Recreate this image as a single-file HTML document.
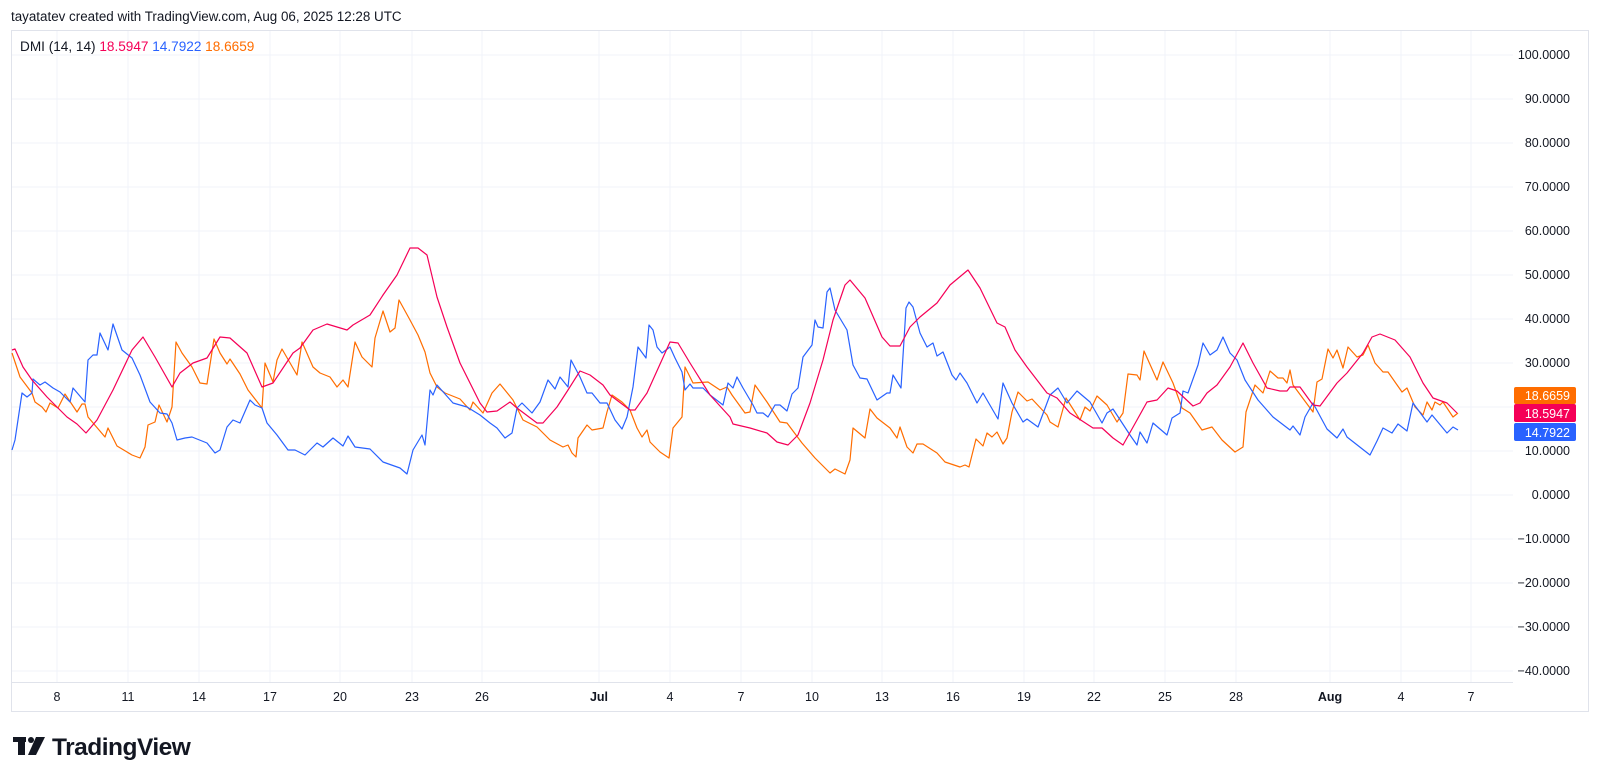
<!DOCTYPE html>
<html><head><meta charset="utf-8"><style>
body{margin:0;background:#fff;width:1600px;height:778px;overflow:hidden;font-family:"Liberation Sans",sans-serif;}
svg{position:absolute;left:0;top:0}
</style></head><body>
<svg width="1600" height="778" viewBox="0 0 1600 778" font-family="Liberation Sans, sans-serif">
<rect x="0" y="0" width="1600" height="778" fill="#fff"/>
<text x="11" y="21" font-size="13.4" fill="#131722">tayatatev created with TradingView.com, Aug 06, 2025 12:28 UTC</text>
<rect x="11.5" y="30.5" width="1577" height="681" fill="none" stroke="#e0e3eb"/>
<line x1="11" y1="682.5" x2="1513" y2="682.5" stroke="#e0e3eb"/>
<g stroke="#f0f3fa" stroke-width="1">
<line x1="12" y1="55" x2="1513" y2="55"/><line x1="12" y1="99" x2="1513" y2="99"/><line x1="12" y1="143" x2="1513" y2="143"/><line x1="12" y1="187" x2="1513" y2="187"/><line x1="12" y1="231" x2="1513" y2="231"/><line x1="12" y1="275" x2="1513" y2="275"/><line x1="12" y1="319" x2="1513" y2="319"/><line x1="12" y1="363" x2="1513" y2="363"/><line x1="12" y1="407" x2="1513" y2="407"/><line x1="12" y1="451" x2="1513" y2="451"/><line x1="12" y1="495" x2="1513" y2="495"/><line x1="12" y1="539" x2="1513" y2="539"/><line x1="12" y1="583" x2="1513" y2="583"/><line x1="12" y1="627" x2="1513" y2="627"/><line x1="12" y1="671" x2="1513" y2="671"/>
<line x1="57" y1="31" x2="57" y2="682"/><line x1="128" y1="31" x2="128" y2="682"/><line x1="199" y1="31" x2="199" y2="682"/><line x1="270" y1="31" x2="270" y2="682"/><line x1="340" y1="31" x2="340" y2="682"/><line x1="412" y1="31" x2="412" y2="682"/><line x1="482" y1="31" x2="482" y2="682"/><line x1="599" y1="31" x2="599" y2="682"/><line x1="670" y1="31" x2="670" y2="682"/><line x1="741" y1="31" x2="741" y2="682"/><line x1="812" y1="31" x2="812" y2="682"/><line x1="882" y1="31" x2="882" y2="682"/><line x1="953" y1="31" x2="953" y2="682"/><line x1="1024" y1="31" x2="1024" y2="682"/><line x1="1094" y1="31" x2="1094" y2="682"/><line x1="1165" y1="31" x2="1165" y2="682"/><line x1="1236" y1="31" x2="1236" y2="682"/><line x1="1330" y1="31" x2="1330" y2="682"/><line x1="1401" y1="31" x2="1401" y2="682"/><line x1="1471" y1="31" x2="1471" y2="682"/>
</g>
<g font-size="12.5" fill="#131722" text-anchor="end">
<text x="1570" y="59">100.0000</text><text x="1570" y="103">90.0000</text><text x="1570" y="147">80.0000</text><text x="1570" y="191">70.0000</text><text x="1570" y="235">60.0000</text><text x="1570" y="279">50.0000</text><text x="1570" y="323">40.0000</text><text x="1570" y="367">30.0000</text><text x="1570" y="455">10.0000</text><text x="1570" y="499">0.0000</text><text x="1570" y="543">−10.0000</text><text x="1570" y="587">−20.0000</text><text x="1570" y="631">−30.0000</text><text x="1570" y="675">−40.0000</text>
</g>
<g font-size="12.5" fill="#131722" text-anchor="middle">
<text x="57" y="701">8</text><text x="128" y="701">11</text><text x="199" y="701">14</text><text x="270" y="701">17</text><text x="340" y="701">20</text><text x="412" y="701">23</text><text x="482" y="701">26</text><text x="599" y="701" font-weight="bold">Jul</text><text x="670" y="701">4</text><text x="741" y="701">7</text><text x="812" y="701">10</text><text x="882" y="701">13</text><text x="953" y="701">16</text><text x="1024" y="701">19</text><text x="1094" y="701">22</text><text x="1165" y="701">25</text><text x="1236" y="701">28</text><text x="1330" y="701" font-weight="bold">Aug</text><text x="1401" y="701">4</text><text x="1471" y="701">7</text>
</g>
<g fill="none" stroke-width="1.2" stroke-linejoin="round">
<polyline stroke="#FF6D00" points="12,353 20,377 32,393 35,402 42,407 46,412 50,403 58,408 65,394 77,412 82,404 85,404 88,417 105,437 108,428 117,446 132,455 140,458 145,447 148,425 155,422 159,405 167,422 172,407 176,342 182,353 192,367 200,383 207,384 214,339 220,353 227,364 230,359 240,374 248,390 262,408 265,363 273,382 277,360 282,349 297,375 302,342 313,367 320,373 330,377 337,387 343,380 348,387 355,342 362,357 372,367 375,338 383,311 390,332 395,328 399,300 410,320 418,335 425,352 430,373 437,387 445,393 460,399 470,410 473,402 483,413 492,393 500,384 513,400 523,420 537,427 550,440 563,447 568,445 572,453 576,457 578,438 587,425 592,430 603,428 607,412 612,395 622,402 630,410 637,428 642,437 647,430 650,442 660,452 669,458 673,428 682,417 685,367 693,383 708,382 720,390 727,387 732,395 745,413 750,412 755,385 767,402 780,422 787,423 802,443 815,458 830,473 835,469 845,474 850,460 853,428 865,438 870,409 877,418 890,428 897,438 900,427 907,447 913,453 917,444 923,444 937,453 945,462 960,467 965,465 969,467 976,439 983,446 987,433 992,437 997,432 1003,444 1007,438 1012,412 1018,392 1027,401 1032,399 1047,415 1050,422 1058,427 1066,398 1080,420 1085,407 1090,411 1097,396 1107,405 1117,422 1123,413 1128,374 1137,375 1140,380 1144,351 1157,380 1163,362 1173,383 1182,408 1190,413 1202,430 1212,427 1222,440 1235,452 1243,447 1246,412 1255,385 1263,393 1270,371 1278,378 1283,378 1287,383 1290,370 1293,385 1313,412 1317,382 1322,379 1328,349 1333,358 1337,350 1343,368 1348,347 1357,357 1363,355 1368,345 1375,363 1383,372 1388,372 1402,392 1407,388 1415,407 1423,415 1427,402 1432,410 1435,402 1440,405 1443,402 1453,417 1458,413"/>
<polyline stroke="#2962FF" points="12,450 15,440 22,393 27,397 32,393 33,379 40,385 45,382 53,388 60,392 70,402 73,388 85,402 88,360 93,355 97,355 100,333 108,350 113,324 122,350 132,358 140,375 150,402 160,413 167,414 172,423 177,440 185,438 192,437 207,443 215,453 220,450 227,427 233,420 240,423 250,400 255,405 262,408 267,423 277,435 288,450 295,450 305,455 317,443 323,447 333,438 343,446 348,436 355,447 370,449 383,462 400,468 407,474 413,450 422,435 425,445 430,390 433,395 437,385 453,403 467,407 480,415 490,423 497,428 505,438 512,433 517,408 522,403 532,413 540,402 548,380 555,389 560,377 568,387 571,360 580,377 587,393 592,393 600,403 607,403 615,420 622,429 627,417 633,387 638,347 646,358 649,325 653,330 657,347 662,353 670,347 675,358 682,372 685,390 690,384 693,388 703,388 710,395 723,405 728,383 733,388 737,377 743,388 753,405 757,413 763,413 768,417 775,405 780,405 787,411 792,394 798,388 803,357 812,345 815,320 818,327 823,328 827,292 830,288 835,310 847,330 853,365 860,378 867,379 877,400 887,393 890,393 893,375 901,388 906,308 909,302 913,307 920,333 927,347 933,343 937,356 943,352 952,375 956,380 960,373 967,383 977,403 983,393 987,400 998,419 1003,383 1012,403 1023,422 1027,419 1038,427 1050,395 1058,388 1067,403 1077,391 1090,402 1102,423 1107,413 1113,409 1130,435 1137,445 1140,432 1147,443 1153,423 1167,435 1172,418 1180,413 1183,391 1188,393 1198,365 1203,343 1210,355 1217,350 1223,337 1230,353 1237,360 1245,380 1258,400 1273,417 1290,430 1293,426 1300,435 1305,417 1313,403 1327,429 1337,438 1343,429 1347,437 1370,455 1377,441 1383,428 1392,433 1398,424 1407,431 1413,403 1427,422 1432,415 1447,433 1453,427 1458,430"/>
<polyline stroke="#F50057" points="12,350 15,349 23,367 32,380 47,397 67,417 77,424 86,433 97,420 113,390 132,350 143,337 155,357 172,387 180,373 193,363 207,358 220,337 230,338 247,353 262,387 273,383 293,353 300,348 313,330 327,324 337,327 347,330 353,325 370,315 383,295 397,275 410,248 418,248 427,255 437,297 447,327 460,363 480,403 487,412 497,411 510,402 517,408 537,423 543,423 557,407 568,390 580,371 590,375 603,385 610,395 630,410 635,410 647,393 670,342 678,343 690,363 710,395 730,417 733,424 750,428 767,433 777,442 788,445 798,435 810,403 823,360 833,320 845,285 850,280 865,298 882,337 890,346 900,346 910,327 920,317 937,303 950,285 968,270 980,288 997,323 1005,327 1015,350 1027,367 1047,393 1057,398 1070,413 1093,428 1102,428 1113,438 1123,445 1137,420 1147,402 1157,400 1168,388 1177,391 1193,406 1200,403 1207,393 1217,385 1230,367 1243,343 1253,363 1267,388 1280,391 1287,391 1290,387 1300,387 1313,405 1320,406 1337,383 1347,373 1363,353 1372,337 1380,334 1395,340 1410,357 1423,383 1433,398 1447,403 1457,413"/>
</g>
<rect x="1514" y="387" width="62" height="17" rx="2" fill="#FF6D00"/>
<rect x="1514" y="404" width="62" height="18" rx="2" fill="#F50057"/>
<rect x="1514" y="423" width="62" height="18" rx="2" fill="#2962FF"/>
<g font-size="12.5" fill="#fff" text-anchor="end">
<text x="1570" y="400">18.6659</text><text x="1570" y="418">18.5947</text><text x="1570" y="437">14.7922</text>
</g>
<text x="20" y="51" font-size="13.6" fill="#131722">DMI (14, 14) <tspan fill="#F50057">18.5947</tspan> <tspan fill="#2962FF">14.7922</tspan> <tspan fill="#FF6D00">18.6659</tspan></text>
<g fill="#131722">
<rect x="13" y="737" width="13" height="5"/><rect x="18" y="737" width="7" height="18"/>
<circle cx="31" cy="740" r="3"/><polygon points="36,737 45,737 36,755 28,755"/>
<text x="52" y="755" font-size="24.5" font-weight="bold" letter-spacing="-0.5">TradingView</text>
</g>
</svg>
</body></html>
